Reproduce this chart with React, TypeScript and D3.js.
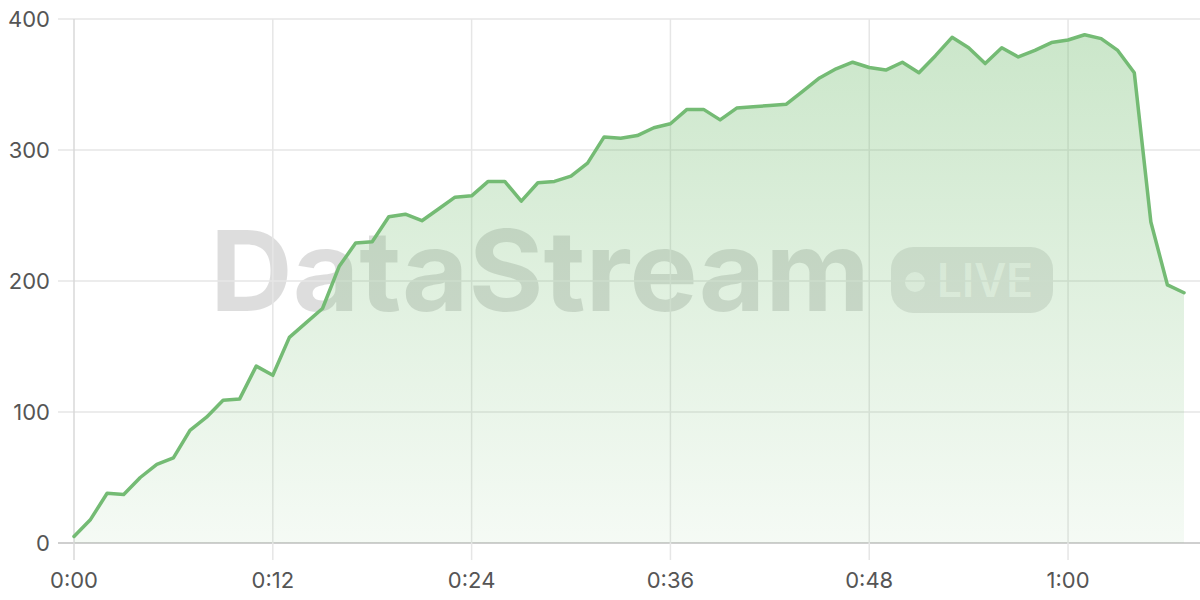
import * as d3 from "d3";

// per-minute readings, 0:00 .. 1:07
const minutes = d3.range(0, 68);
const values = [
  5, 18, 38, 37, 50, 60, 65, 86, 96, 109,
  110, 135, 128, 157, 168, 179, 211, 229, 230, 249,
  251, 246, 255, 264, 265, 276, 276, 261, 275, 276,
  280, 290, 310, 309, 311, 317, 320, 331, 331, 323,
  332, 333, 334, 335, 345, 355, 362, 367, 363, 361,
  367, 359, 372, 386, 378, 366, 378, 371, 376, 382,
  384, 388, 385, 376, 359, 245, 197, 191,
];
const yTicks = [0, 100, 200, 300, 400];
const xTicks = [0, 12, 24, 36, 48, 60];

const W = 1200;
const H = 600;
const FONT = "Inter, 'Noto Sans', sans-serif";

const fmt = (m: number) => `${Math.floor(m / 60)}:${String(m % 60).padStart(2, "0")}`;

export default function App() {
  const x = d3.scaleLinear().domain([0, 67]).range([74, 1184]);
  const y = d3.scaleLinear().domain([0, 400]).range([543, 19]);

  const data = minutes.map((m, i) => ({ m, v: values[i] }));

  const area = d3
    .area<{ m: number; v: number }>()
    .x((d) => x(d.m))
    .y0(y(0))
    .y1((d) => y(d.v));
  const line = d3
    .line<{ m: number; v: number }>()
    .x((d) => x(d.m))
    .y((d) => y(d.v));

  return (
    <svg
      width={W}
      height={H}
      style={{ position: "absolute", left: 0, top: 0, background: "#fff" }}
    >
      <defs>
        <linearGradient id="fillGrad" x1="0" y1="0" x2="0" y2="1">
          <stop offset="0%" stopColor="#6fbb6c" stopOpacity={0.36} />
          <stop offset="100%" stopColor="#6fbb6c" stopOpacity={0.07} />
        </linearGradient>
      </defs>

      {/* watermark */}
      <g fontFamily={FONT}>
        <text
          x={210}
          y={311}
          fontSize={112}
          fontWeight={700}
          fill="#000"
          fillOpacity={0.135}
          textLength={660}
          lengthAdjust="spacingAndGlyphs"
        >
          DataStream
        </text>
        <rect x={891} y={247} width={162} height={66} rx={22} fill="#000" fillOpacity={0.1} />
        <circle cx={915} cy={282} r={10} fill="#fff" fillOpacity={0.7} />
        <text
          x={937}
          y={297}
          fontSize={46}
          fontWeight={600}
          fill="#fff"
          fillOpacity={0.7}
          textLength={96}
          lengthAdjust="spacingAndGlyphs"
        >
          LIVE
        </text>
      </g>

      {/* grid */}
      {yTicks.map((t) => (
        <line
          key={`h${t}`}
          x1={58}
          x2={W}
          y1={y(t)}
          y2={y(t)}
          stroke={t === 0 ? "#cfcfcf" : "#e6e6e6"}
          strokeWidth={t === 0 ? 2 : 1.5}
        />
      ))}
      {xTicks.map((t) => (
        <line
          key={`v${t}`}
          x1={x(t)}
          x2={x(t)}
          y1={19}
          y2={560}
          stroke={t === 0 ? "#d8d8d8" : "#e6e6e6"}
          strokeWidth={1.5}
        />
      ))}

      <path d={area(data) ?? ""} fill="url(#fillGrad)" />
      <path
        d={line(data) ?? ""}
        fill="none"
        stroke="#74bb74"
        strokeWidth={3.5}
        strokeLinejoin="round"
        strokeLinecap="round"
      />

      {/* axis labels */}
      <g fontFamily={FONT} fontSize={22} fill="#555">
        {yTicks.map((t) => (
          <text key={`yl${t}`} x={50} y={y(t)} dy="0.36em" textAnchor="end">
            {t}
          </text>
        ))}
        {xTicks.map((t) => (
          <text key={`xl${t}`} x={x(t)} y={588} textAnchor="middle">
            {fmt(t)}
          </text>
        ))}
      </g>
    </svg>
  );
}
